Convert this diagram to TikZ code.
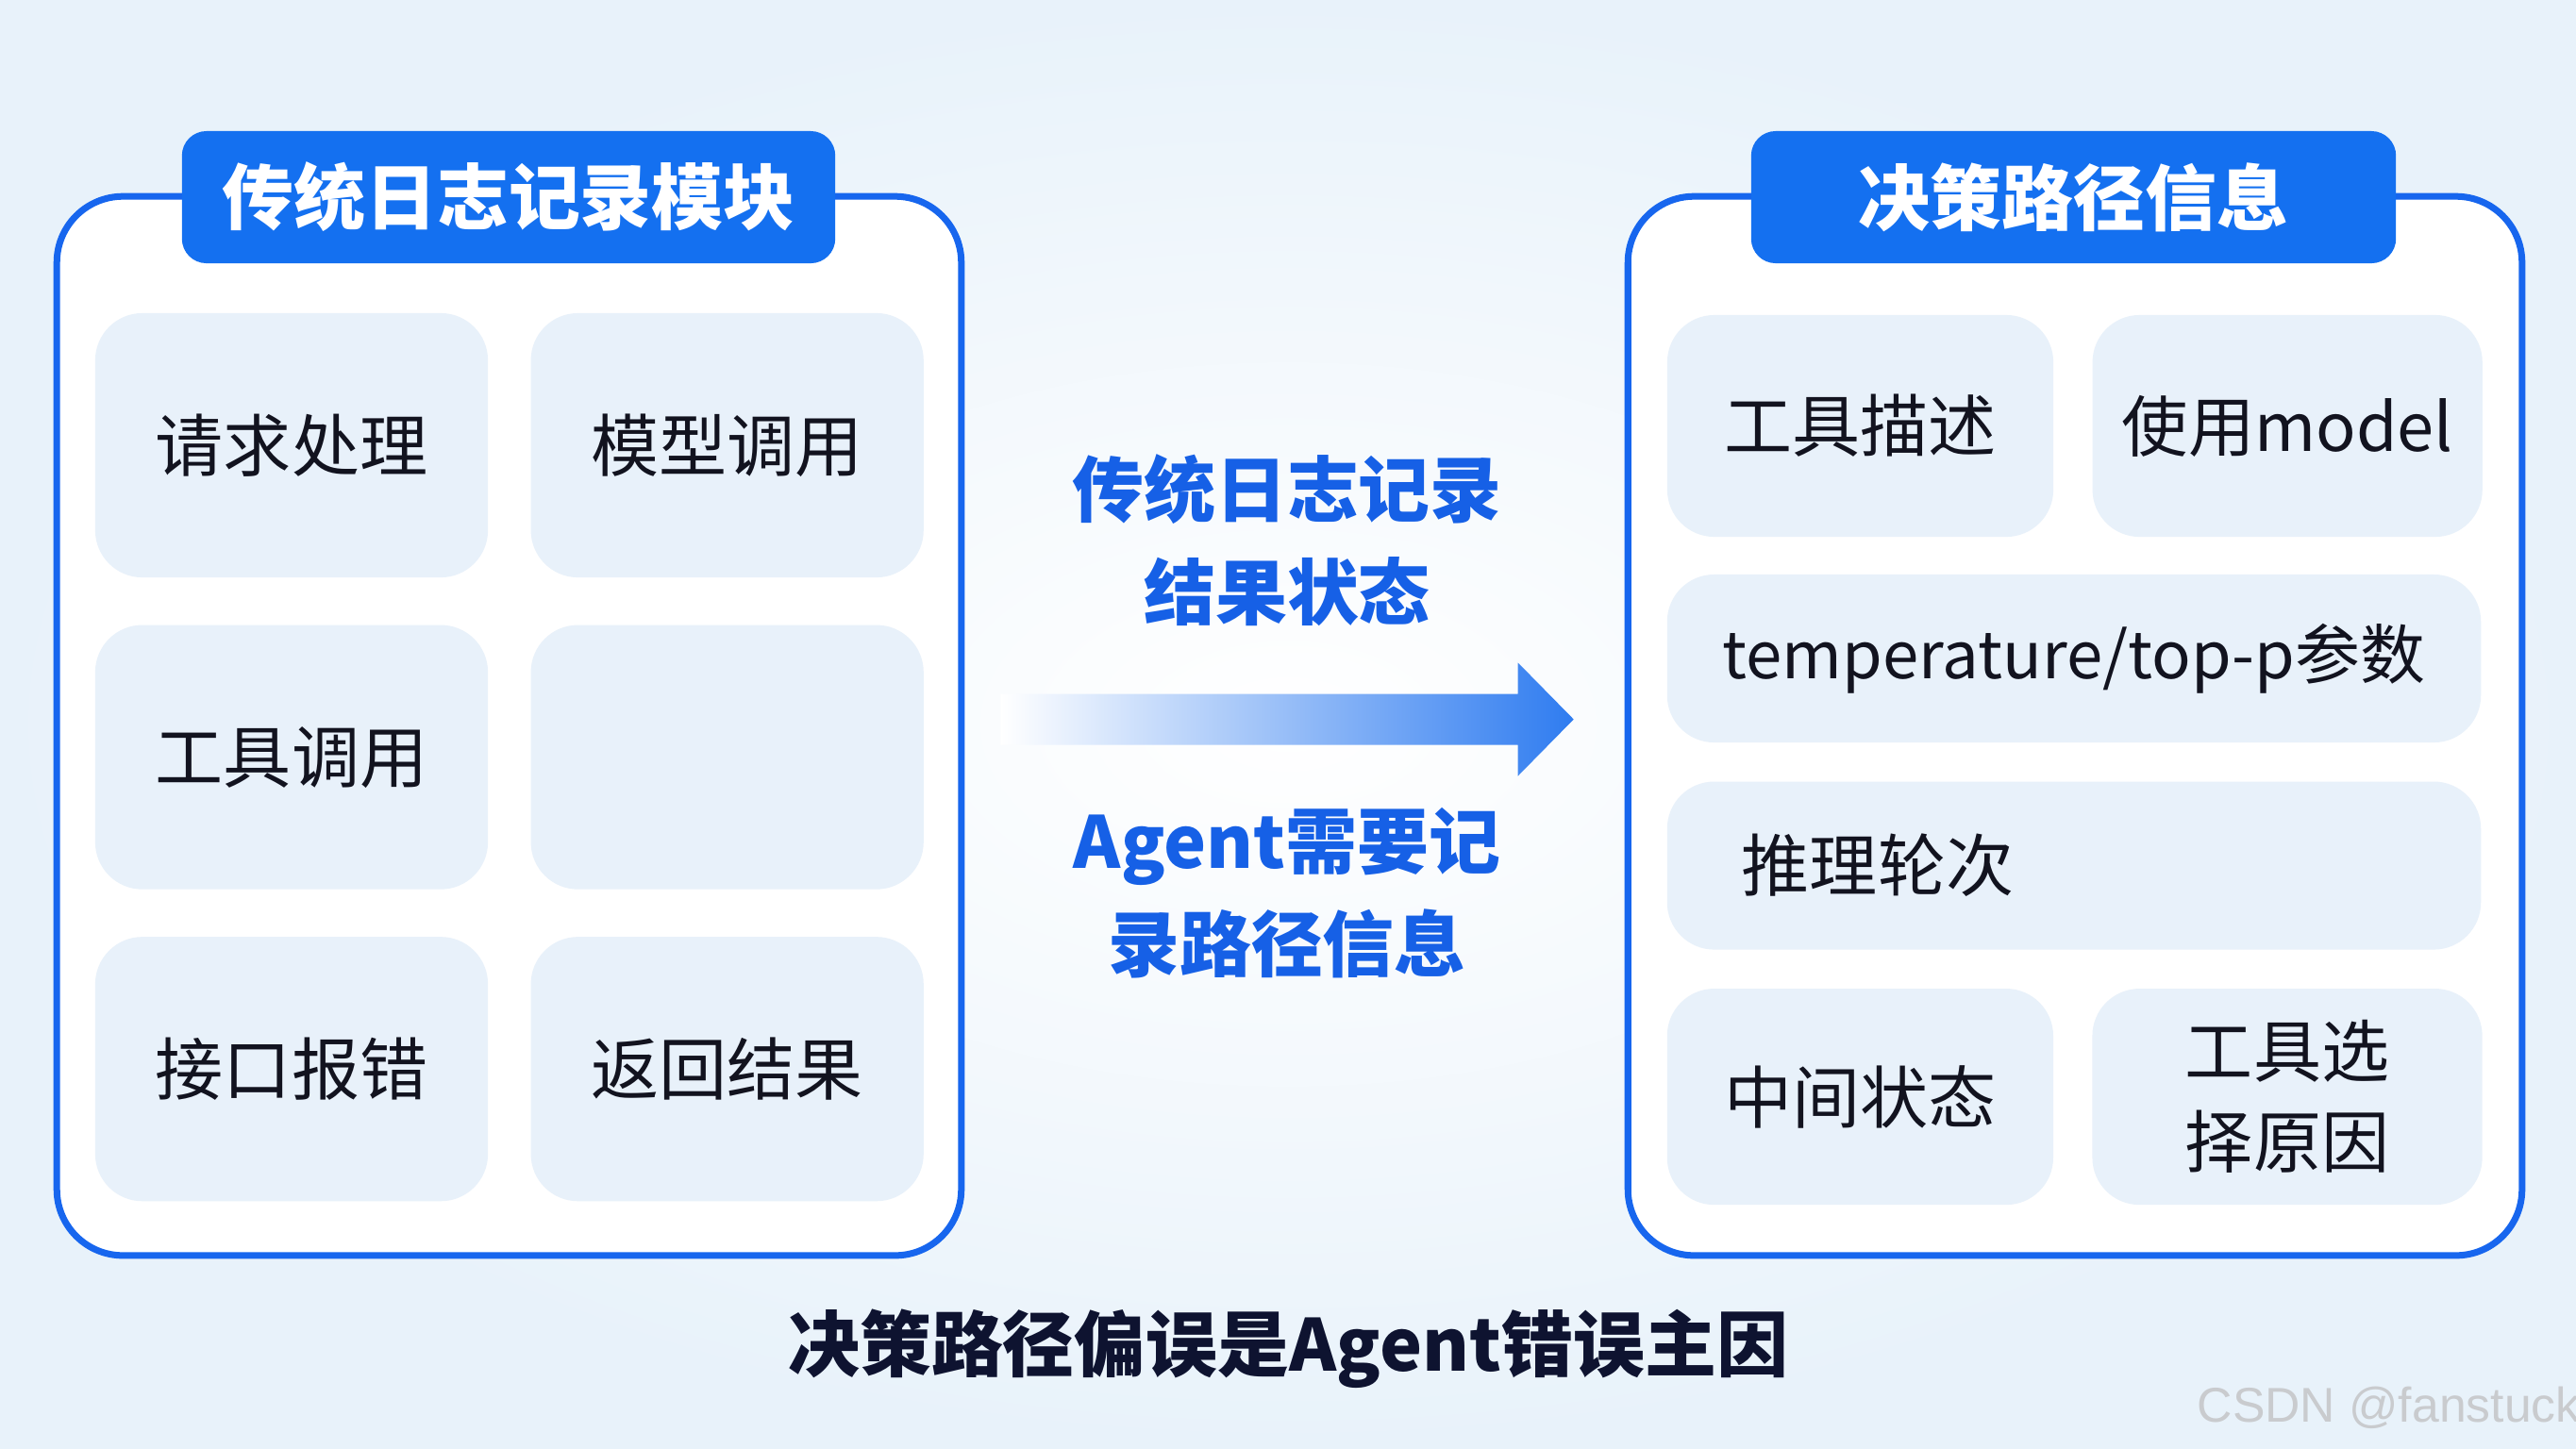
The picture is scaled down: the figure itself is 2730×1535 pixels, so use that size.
\documentclass[tikz,border=0pt]{standalone}
\usepackage{fontspec}
\setmainfont{Noto Sans CJK SC}
\newfontfamily\markfont{Liberation Sans}
\usetikzlibrary{positioning, calc}

\definecolor{bgblue}{HTML}{E8F2FA}
\definecolor{panelblue}{HTML}{1766EE}
\definecolor{titleblue}{HTML}{1470F0}
\definecolor{cellblue}{HTML}{E8F1FA}
\definecolor{inkdark}{HTML}{12131F}
\definecolor{noteblue}{HTML}{1660E6}
\definecolor{arrowblue}{HTML}{2F7CF0}
\definecolor{navy}{HTML}{0E1330}
\definecolor{markgray}{HTML}{C9CBCE}

\begin{document}
\begin{tikzpicture}[
    x=0.01cm, y=-0.01cm,
    panelbox/.style={rectangle, draw=panelblue, line width=0.07cm, fill=white, rounded corners=0.7cm, minimum height=11.22cm},
    headbox/.style={rectangle, fill=titleblue, rounded corners=0.26cm, minimum height=1.4cm, text=white, font=\fontsize{21.6pt}{26pt}\selectfont\bfseries},
    itembox/.style={rectangle, fill=cellblue, rounded corners=0.5cm, text=inkdark, align=center, font=\fontsize{20.5pt}{27.3pt}\selectfont},
    lcell/.style={itembox, minimum width=4.16cm, minimum height=2.8cm},
    flownote/.style={text=noteblue, align=center, font=\fontsize{21.6pt}{31pt}\selectfont\bfseries}
]
\useasboundingbox (0,0) rectangle (2730,1535);
\shade[inner color=white, outer color=bgblue] (0,0) rectangle (2730,1535);

\node[panelbox, minimum width=9.58cm] (oldpanel) at (539.5,769.5) {};
\node[panelbox, minimum width=9.47cm] (newpanel) at (2199,769.5) {};

\node[lcell] (req) at (309,472) {请求处理};
\node[lcell, right=0.44cm of req] (modelcall) {模型调用};
\node[lcell, below=0.49cm of req] (toolcall) {工具调用};
\node[lcell, right=0.44cm of toolcall] (blank) {};
\node[lcell, below=0.49cm of toolcall] (apierr) {接口报错};
\node[lcell, right=0.44cm of apierr] (result) {返回结果};

\node[itembox, minimum width=4.09cm, minimum height=2.35cm] (tooldesc) at (1971.5,451.5) {工具描述};
\node[itembox, minimum width=4.13cm, minimum height=2.35cm, right=0.4cm of tooldesc, font=\fontsize{20pt}{26pt}\selectfont] (usemodel) {使用model};
\node[itembox, minimum width=8.62cm, minimum height=1.78cm, font=\fontsize{19.6pt}{26pt}\selectfont] (temp) at (2198,698) {temperature/top-p参数};
\node[itembox, minimum height=1.78cm, text width=7.04cm, inner xsep=0.79cm, align=left, below=0.4cm of temp] (rounds) {推理轮次};
\node[itembox, minimum width=4.09cm, minimum height=2.29cm, below=0.4cm of rounds.south west, anchor=north west] (midstate) {中间状态};
\node[itembox, minimum width=4.13cm, minimum height=2.29cm, right=0.4cm of midstate] (reason) {工具选\\择原因};

\node[headbox, minimum width=6.92cm] (oldhead) at (539,209) {传统日志记录模块};
\node[headbox, minimum width=6.83cm] (newhead) at (2197.5,209) {决策路径信息};

\coordinate (arrS) at ($(oldpanel.east)+(38,-7)$);
\coordinate (arrE) at ($(newpanel.west)+(-54,-7)$);
\shade[left color=white, right color=arrowblue] ($(arrS)+(0,-27)$) -- ($(arrE)+(-59,-27)$) -- ($(arrE)+(-59,-60)$) -- (arrE) -- ($(arrE)+(-59,60)$) -- ($(arrE)+(-59,27)$) -- ($(arrS)+(0,27)$) -- cycle;

\node[flownote] (oldnote) at (1364,573) {传统日志记录\\结果状态};
\node[flownote] (newnote) at (1364,947) {Agent需要记\\录路径信息};

\node[text=navy, font=\fontsize{21.6pt}{26pt}\selectfont\bfseries] (verdict) at (1365,1430) {决策路径偏误是Agent错误主因};
\node[anchor=base west, inner sep=0, text=markgray, font=\markfont\fontsize{14.7pt}{17pt}\selectfont] (mark) at (2328,1507) {CSDN @fanstuck};
\end{tikzpicture}
\end{document}
